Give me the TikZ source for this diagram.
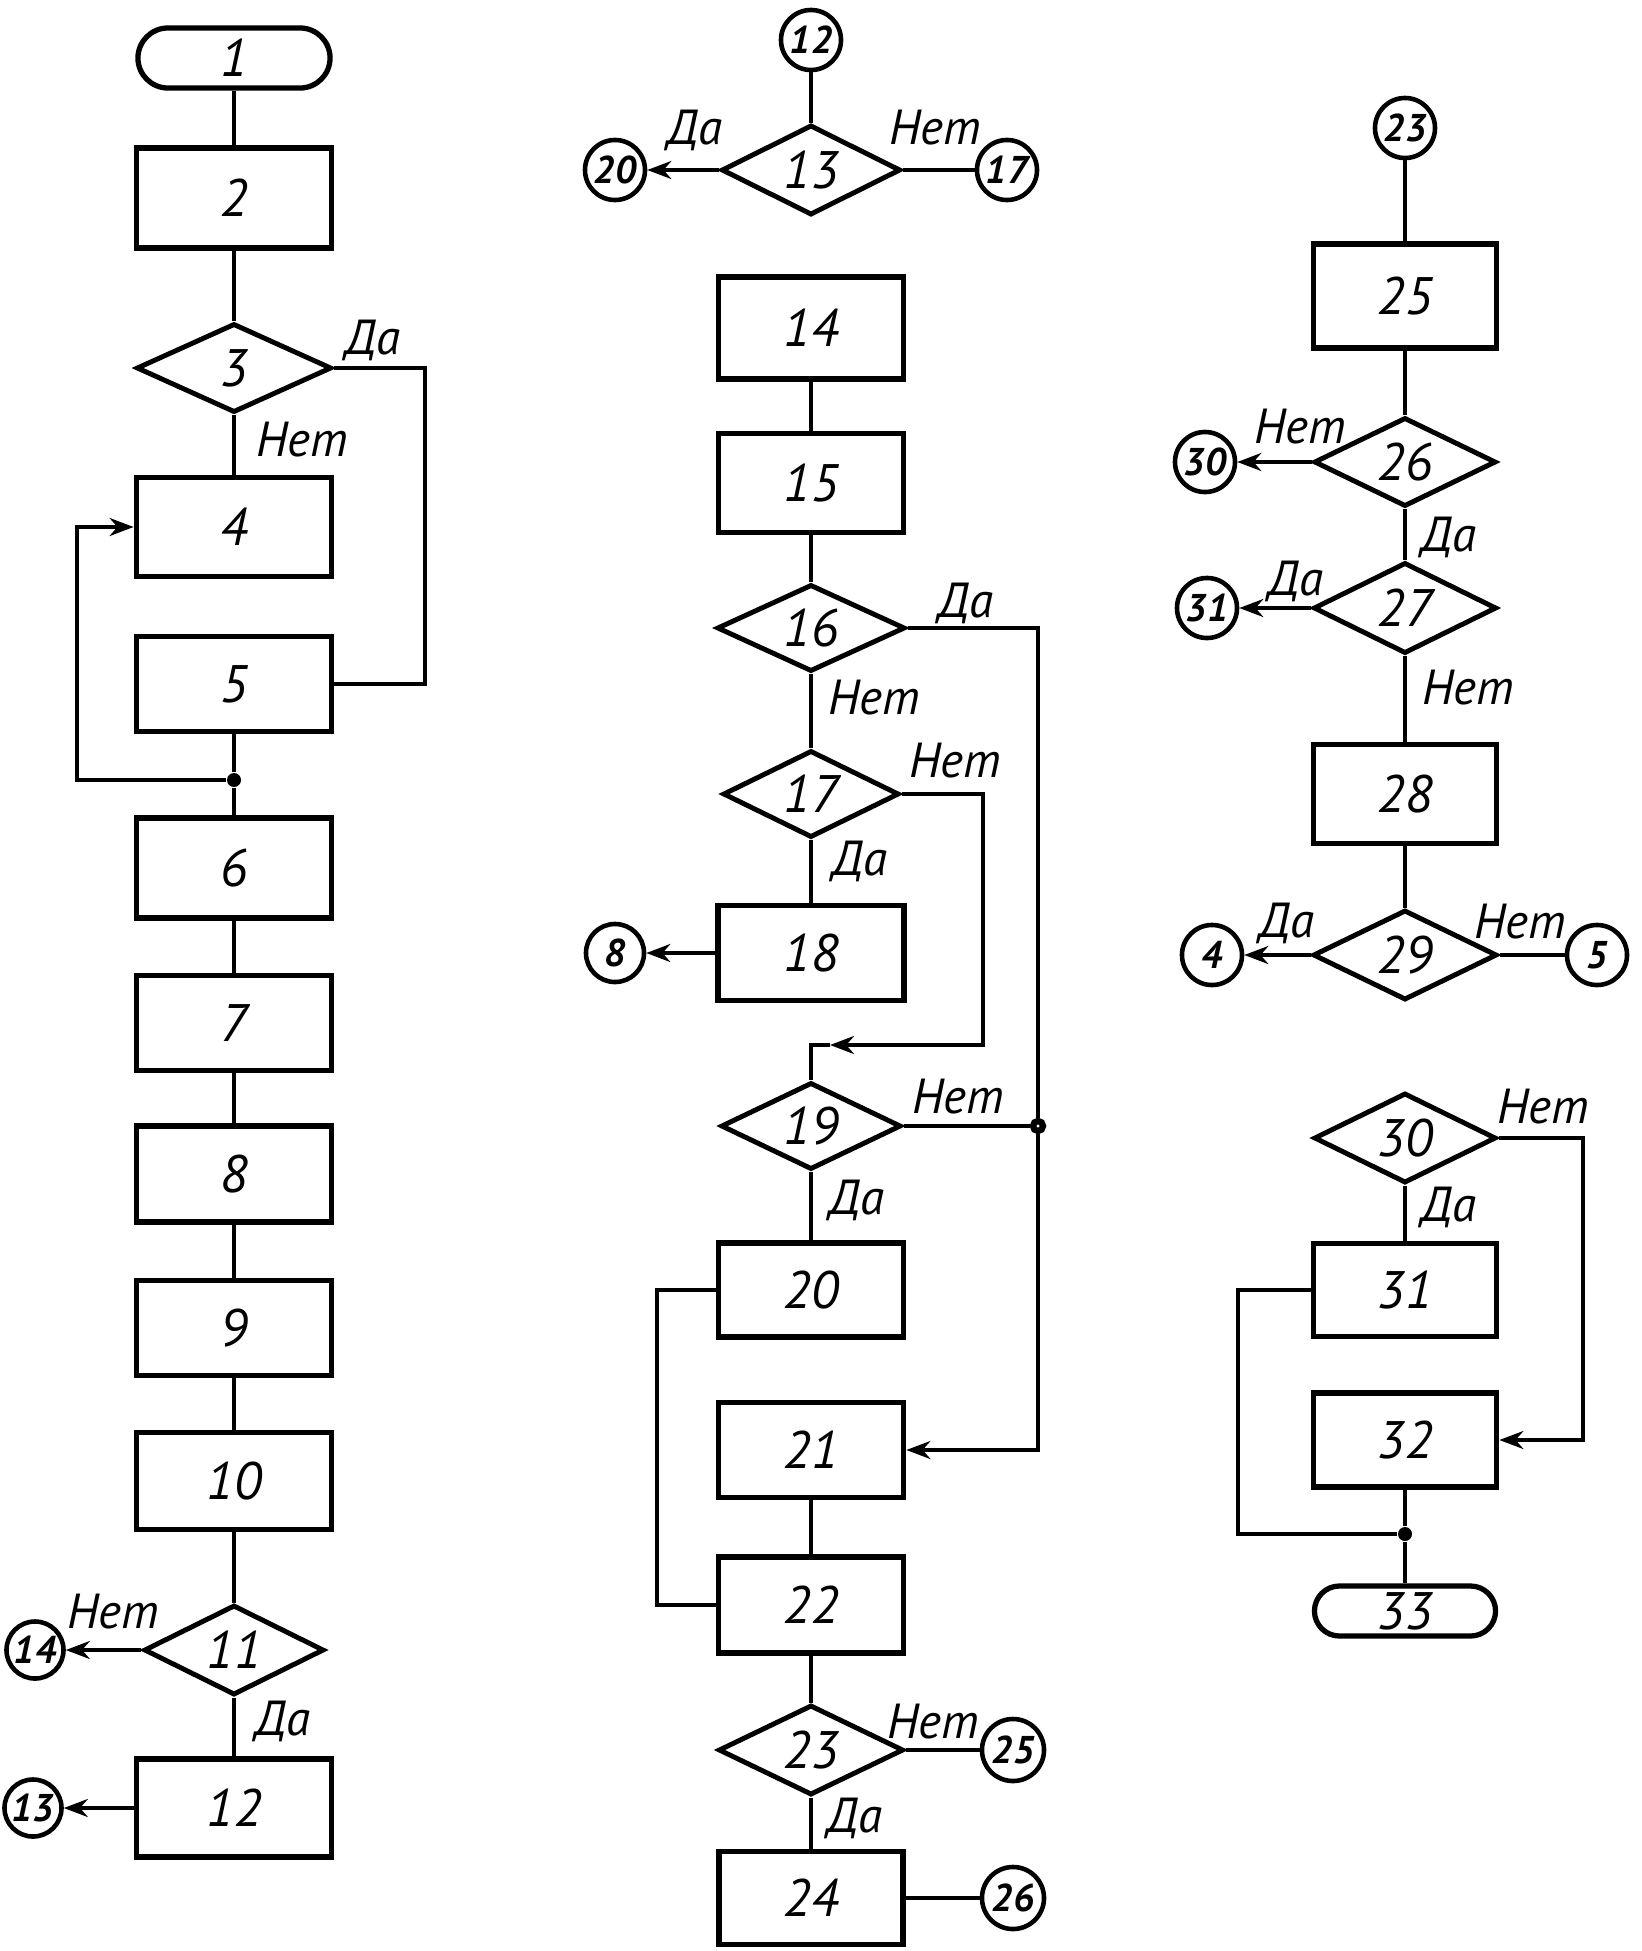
\documentclass[tikz,border=0pt]{standalone}
\usepackage{fontspec}
\setmainfont{PT Sans}
\usetikzlibrary{shapes.geometric,arrows.meta}
\begin{document}
\begin{tikzpicture}[x=0.01cm,y=-0.01cm,
  box/.style={draw,line width=1.6pt,minimum height=0.97cm,inner sep=0pt,font=\fontsize{15}{15}\selectfont\itshape},
  dec/.style={diamond,draw,line width=1.4pt,aspect=2,inner sep=0pt,minimum height=0.89cm,font=\fontsize{15}{15}\selectfont\itshape},
  conn/.style={circle,draw,line width=1.3pt,minimum size=0.6cm,inner sep=0pt,font=\fontsize{11}{11}\selectfont\bfseries\itshape},
  term/.style={draw,line width=1.5pt,inner sep=0pt,font=\fontsize{15}{15}\selectfont\itshape},
  lbl/.style={inner sep=0pt,font=\fontsize{14}{14}\selectfont\itshape},
  ln/.style={line width=1pt},
  arr/.style={line width=1pt,-{Stealth[length=2.4mm,width=1.8mm]}},
  jdot/.style={circle,fill,inner sep=0pt,minimum size=0.14cm}
]
\useasboundingbox (0,0) rectangle (1642,1951);

% ---------- column 1 ----------
\node[term,rounded corners=0.3cm,minimum width=1.92cm,minimum height=0.6cm] (t1) at (234,58) {1};
\node[box,minimum width=1.95cm,minimum height=1.0cm] (b2) at (234,198) {2};
\node[dec,minimum width=1.95cm] (d3) at (234,368) {3};
\node[box,minimum width=1.95cm,minimum height=0.99cm] (b4) at (234,527) {4};
\node[box,minimum width=1.95cm,minimum height=0.95cm] (b5) at (234,684) {5};
\node[jdot] (dot1) at (234,780) {};
\node[box,minimum width=1.95cm,minimum height=1.0cm] (b6) at (234,868) {6};
\node[box,minimum width=1.95cm,minimum height=0.95cm] (b7) at (234,1023) {7};
\node[box,minimum width=1.95cm,minimum height=0.96cm] (b8) at (234,1174) {8};
\node[box,minimum width=1.95cm,minimum height=0.95cm] (b9) at (234,1328) {9};
\node[box,minimum width=1.95cm,minimum height=0.97cm] (b10) at (234,1481) {10};
\node[dec,minimum width=1.80cm,minimum height=0.90cm] (d11) at (234,1650) {11};
\node[conn,minimum size=0.57cm] (c14) at (35,1650) {14};
\node[box,minimum width=1.95cm,minimum height=0.98cm] (b12) at (234,1808) {12};
\node[conn,minimum size=0.57cm] (c13) at (33,1808) {13};

\coordinate (k3a) at (425,368);
\coordinate (k3b) at (425,684);
\coordinate (k1a) at (77,780);
\coordinate (k1b) at (77,527);

\draw[ln] (t1) -- (b2);
\draw[ln] (b2) -- (d3);
\draw[ln] (d3) -- (b4);
\draw[ln] (d3.east) -- (k3a) -- (k3b) -- (b5.east);
\draw[ln] (b5) -- (dot1) -- (b6);
\draw[arr] (dot1) -- (k1a) -- (k1b) -- (b4.west);
\draw[ln] (b6) -- (b7);
\draw[ln] (b7) -- (b8);
\draw[ln] (b8) -- (b9);
\draw[ln] (b9) -- (b10);
\draw[ln] (b10) -- (d11);
\draw[arr] (d11.west) -- (c14.east);
\draw[ln] (d11) -- (b12);
\draw[arr] (b12.west) -- (c13.east);

\node[lbl] (l3da) at (373,340) {Да};
\node[lbl] (l3net) at (302,440) {Нет};
\node[lbl] (l11net) at (113,1612) {Нет};
\node[lbl] (l11da) at (283,1721) {Да};

% ---------- column 2 ----------
\node[conn] (c12) at (811,40) {12};
\node[dec,minimum width=1.79cm,minimum height=0.90cm] (d13) at (811,170) {13};
\node[conn] (c20) at (615,170) {20};
\node[conn] (c17) at (1007,170) {17};
\node[box,minimum width=1.85cm,minimum height=1.02cm] (b14) at (811,328) {14};
\node[box,minimum width=1.85cm,minimum height=0.99cm] (b15) at (811,483) {15};
\node[dec,minimum width=1.88cm,minimum height=0.87cm] (d16) at (811,628) {16};
\node[dec,minimum width=1.76cm,minimum height=0.87cm] (d17) at (811,794) {17};
\node[box,minimum width=1.86cm,minimum height=0.95cm] (b18) at (811,953) {18};
\node[conn,minimum size=0.58cm] (c8) at (615,953) {8};
\node[dec,minimum width=1.80cm,minimum height=0.87cm] (d19) at (811,1126) {19};
\node[circle,draw,line width=1.8pt,fill=white,inner sep=0pt,minimum size=0.1cm] (jn) at (1038,1126) {};
\node[box,minimum width=1.85cm,minimum height=0.94cm] (b20) at (811,1290) {20};
\node[box,minimum width=1.85cm,minimum height=0.95cm] (b21) at (811,1450) {21};
\node[box,minimum width=1.85cm,minimum height=0.96cm] (b22) at (811,1605) {22};
\node[dec,minimum width=1.85cm,minimum height=0.90cm] (d23) at (811,1750) {23};
\node[conn,minimum size=0.62cm] (c25) at (1013,1750) {25};
\node[box,minimum width=1.84cm,minimum height=0.93cm] (b24) at (811,1898) {24};
\node[conn,minimum size=0.62cm] (c26) at (1013,1898) {26};

\coordinate (k16a) at (1038,628);
\coordinate (k16b) at (1038,1450);
\coordinate (k17a) at (983,794);
\coordinate (k17b) at (983,1045);
\coordinate (k17c) at (830,1045);
\coordinate (k17d) at (811,1045);
\coordinate (k20a) at (657,1290);
\coordinate (k20b) at (657,1605);

\draw[ln] (c12) -- (d13);
\draw[arr] (d13.west) -- (c20.east);
\draw[ln] (c17.west) -- (d13.east);
\draw[ln] (b14) -- (b15);
\draw[ln] (b15) -- (d16);
\draw[ln] (d16) -- (d17);
\draw[ln] (d17) -- (b18);
\draw[arr] (b18.west) -- (c8.east);
\draw[ln] (d16.east) -- (k16a) -- (jn);
\draw[arr] (jn) -- (k16b) -- (b21.east);
\draw[arr] (d17.east) -- (k17a) -- (k17b) -- (k17c);
\draw[ln] (k17c) -- (k17d) -- (d19.north);
\draw[ln] (d19.east) -- (jn);
\draw[ln] (d19) -- (b20);
\draw[ln] (b20.west) -- (k20a) -- (k20b) -- (b22.west);
\draw[ln] (b21) -- (b22);
\draw[ln] (b22) -- (d23);
\draw[ln] (d23.east) -- (c25.west);
\draw[ln] (d23) -- (b24);
\draw[ln] (b24.east) -- (c26.west);

\node[lbl] (l13da) at (695,130) {Да};
\node[lbl] (l13net) at (935,128) {Нет};
\node[lbl] (l16da) at (966,603) {Да};
\node[lbl] (l16net) at (874,698) {Нет};
\node[lbl] (l17net) at (955,761) {Нет};
\node[lbl] (l17da) at (860,861) {Да};
\node[lbl] (l19net) at (958,1097) {Нет};
\node[lbl] (l19da) at (857,1200) {Да};
\node[lbl] (l23net) at (933,1722) {Нет};
\node[lbl] (l23da) at (855,1818) {Да};

% ---------- column 3 ----------
\node[conn] (c23) at (1405,128) {23};
\node[box,minimum width=1.83cm,minimum height=1.04cm] (b25) at (1405,296) {25};
\node[dec,minimum width=1.82cm,minimum height=0.89cm] (d26) at (1405,462) {26};
\node[conn] (c30) at (1205,462) {30};
\node[dec,minimum width=1.83cm,minimum height=0.91cm] (d27) at (1405,608) {27};
\node[conn] (c31) at (1207,608) {31};
\node[box,minimum width=1.83cm,minimum height=0.99cm] (b28) at (1405,794) {28};
\node[dec,minimum width=1.84cm,minimum height=0.90cm] (d29) at (1405,955) {29};
\node[conn] (c4) at (1212,955) {4};
\node[conn] (c5) at (1597,955) {5};
\node[dec,minimum width=1.82cm,minimum height=0.90cm] (d30) at (1405,1138) {30};
\node[box,minimum width=1.83cm,minimum height=0.93cm] (b31) at (1405,1290) {31};
\node[box,minimum width=1.83cm,minimum height=0.94cm] (b32) at (1405,1440) {32};
\node[jdot] (dot2) at (1405,1534) {};
\node[term,rounded corners=0.25cm,minimum width=1.81cm,minimum height=0.5cm] (t33) at (1405,1611) {33};

\coordinate (k30a) at (1583,1138);
\coordinate (k30b) at (1583,1440);
\coordinate (k31a) at (1238,1290);
\coordinate (k31b) at (1238,1534);

\draw[ln] (c23) -- (b25);
\draw[ln] (b25) -- (d26);
\draw[arr] (d26.west) -- (c30.east);
\draw[ln] (d26) -- (d27);
\draw[arr] (d27.west) -- (c31.east);
\draw[ln] (d27) -- (b28);
\draw[ln] (b28) -- (d29);
\draw[arr] (d29.west) -- (c4.east);
\draw[ln] (c5.west) -- (d29.east);
\draw[arr] (d30.east) -- (k30a) -- (k30b) -- (b32.east);
\draw[ln] (d30) -- (b31);
\draw[ln] (b31.west) -- (k31a) -- (k31b) -- (dot2);
\draw[ln] (b32) -- (dot2) -- (t33);

\node[lbl] (l26net) at (1300,427) {Нет};
\node[lbl] (l26da) at (1449,537) {Да};
\node[lbl] (l27da) at (1296,581) {Да};
\node[lbl] (l27net) at (1468,688) {Нет};
\node[lbl] (l29da) at (1287,923) {Да};
\node[lbl] (l29net) at (1520,922) {Нет};
\node[lbl] (l30net) at (1543,1107) {Нет};
\node[lbl] (l30da) at (1449,1207) {Да};
\end{tikzpicture}
\end{document}
